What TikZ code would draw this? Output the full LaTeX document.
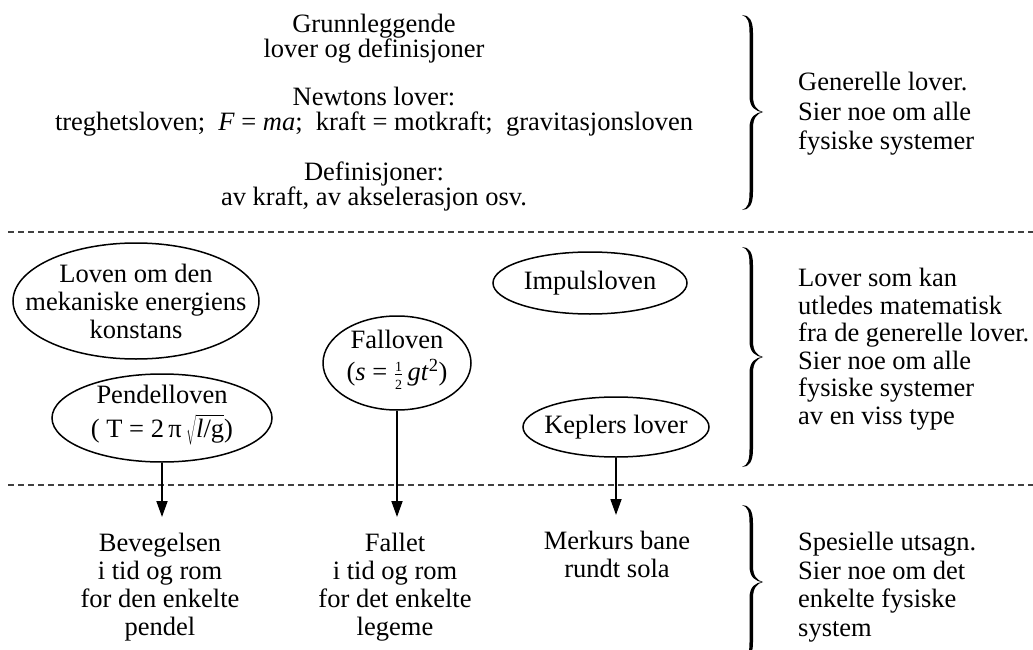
\documentclass[tikz,border=0pt]{standalone}
\usepackage{fontspec}
\setmainfont{Liberation Serif}
\usetikzlibrary{arrows.meta,shapes.geometric}
\newcommand{\curlybrace}[4]{% x, ytop, ybot, ymid
\fill (#1-9,#2) .. controls (#1-2,#2) and (#1+2,#2+5) .. (#1+2,#2+18)
 -- (#1+2,#4-16) .. controls (#1+2,#4-6) and (#1+6,#4-1.5) .. (#1+12,#4)
 .. controls (#1+6,#4+1.5) and (#1+2,#4+6) .. (#1+2,#4+16)
 -- (#1+2,#3-18) .. controls (#1+2,#3-5) and (#1-2,#3) .. (#1-9,#3)
 .. controls (#1-3,#3-2) and (#1-1.5,#3-7) .. (#1-1.5,#3-18)
 -- (#1-1.5,#4+16) .. controls (#1-1.5,#4+5) and (#1+4,#4+0.5) .. (#1+12,#4)
 .. controls (#1+4,#4-0.5) and (#1-1.5,#4-5) .. (#1-1.5,#4-16)
 -- (#1-1.5,#2+18) .. controls (#1-1.5,#2+7) and (#1-3,#2+2) .. (#1-9,#2) -- cycle;}
\newcommand{\smallfr}[2]{$\frac{\mbox{\fontsize{14}{14}\selectfont #1}}{\mbox{\fontsize{14}{14}\selectfont #2}}$}
\begin{document}
\begin{tikzpicture}[x=1pt,y=-1pt,
 txt/.style={font=\fontsize{26.5}{28}\selectfont, align=center, inner sep=0pt},
 toptxt/.style={txt, anchor=north},
 headtxt/.style={font=\fontsize{26.5}{24.5}\selectfont, align=center, inner sep=0pt, anchor=north},
 rtxt/.style={font=\fontsize{26.5}{28.5}\selectfont, align=left, inner sep=0pt, anchor=north west},
 oval/.style={draw, ellipse, line width=1.5pt, inner sep=0pt},
 arr/.style={line width=1.8pt, -{Triangle[length=16pt,width=11pt]}, shorten >=16pt},
 sep/.style={dash pattern=on 6pt off 4pt, line width=1.2pt, black!75}]
\useasboundingbox (0,0) rectangle (1033,650);
% top block
\node[headtxt] (top1) at (374,14) {Grunnleggende\\lover og definisjoner};
\node[headtxt] (top2) at (374,87) {Newtons lover:\\treghetsloven;\ \ \textit{F} = \textit{ma};\ \ kraft = motkraft;\ \ gravitasjonsloven};
\node[headtxt] (top3) at (374,162) {Definisjoner:\\av kraft, av akselerasjon osv.};
% separators
\coordinate (d1l) at (8,232); \coordinate (d1r) at (1033,232);
\coordinate (d2l) at (8,485); \coordinate (d2r) at (1033,485);
\draw[sep] (d1l) -- (d1r);
\draw[sep] (d2l) -- (d2r);
% ellipses
\node[oval, minimum width=246, minimum height=116] (lovE) at (136,301) {};
\node[txt] (lovT) at (lovE.center) {Loven om den\\mekaniske energiens\\konstans};
\node[oval, minimum width=220, minimum height=88] (pendE) at (162,418) {};
\node[txt] (pendT) at ([yshift=3pt]pendE.center) {Pendelloven\\[6pt]( T = 2\,π\,$\sqrt{\mbox{\textit{l}/g}}$)};
\node[oval, minimum width=148, minimum height=94] (fallE) at (397,363) {};
\node[txt] (fallT) at ([yshift=3pt]fallE.center) {Falloven\\[4pt](\textit{s} = \smallfr{1}{2}\,\textit{gt}\textsuperscript{2})};
\node[oval, minimum width=194, minimum height=62] (impE) at (590,283) {};
\node[txt] (impT) at (impE.center) {Impulsloven};
\node[oval, minimum width=186, minimum height=60] (kepE) at (616,427) {};
\node[txt] (kepT) at (kepE.center) {Keplers lover};
% bottom texts
\node[toptxt] (bevT) at (160,533) {Bevegelsen\\i tid og rom\\for den enkelte\\pendel};
\node[toptxt] (fallB) at (395,533) {Fallet\\i tid og rom\\for det enkelte\\legeme};
\node[toptxt] (merkT) at (617,531) {Merkurs bane\\rundt sola};
% arrows
\draw[arr] (pendE.south) -- (pendE.south |- bevT.north);
\draw[arr] (fallE.south) -- (fallE.south |- fallB.north);
\draw[arr] (kepE.south) -- (kepE.south |- merkT.north);
% braces
\curlybrace{751}{15}{210}{112}
\curlybrace{751}{247}{467}{357}
\curlybrace{751}{505}{660}{582}
% right texts
\node[rtxt, font=\fontsize{26.5}{29.5}\selectfont] (r1) at (798,72) {Generelle lover.\\Sier noe om alle\\fysiske systemer};
\node[rtxt, font=\fontsize{26.5}{27.6}\selectfont] (r2) at (798,268) {Lover som kan\\utledes matematisk\\fra de generelle lover.\\Sier noe om alle\\fysiske systemer\\av en viss type};
\node[rtxt] (r3) at (798,532) {Spesielle utsagn.\\Sier noe om det\\enkelte fysiske\\system};
\end{tikzpicture}
\end{document}
